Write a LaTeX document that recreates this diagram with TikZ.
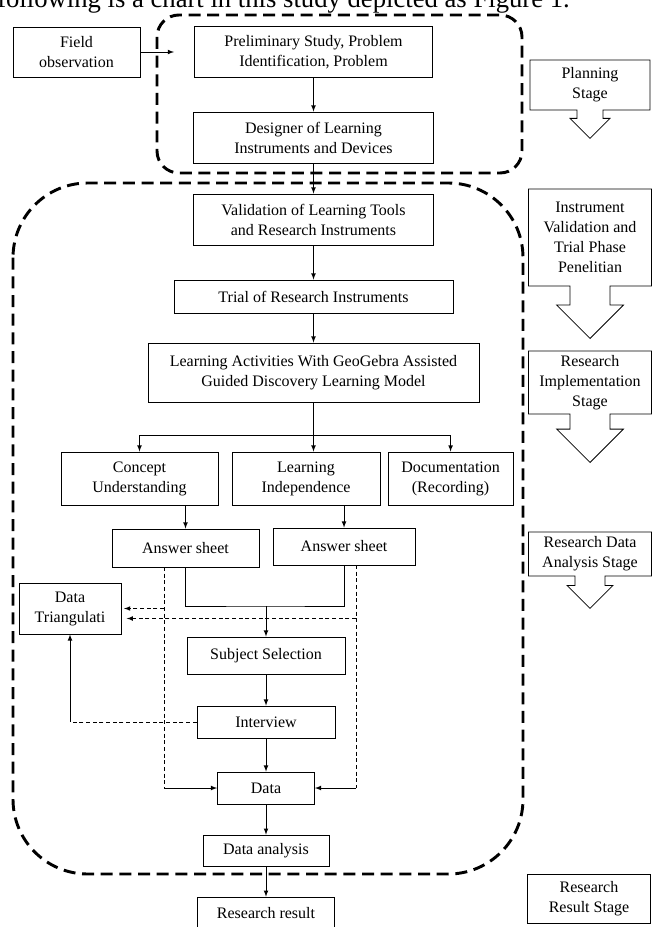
\documentclass[tikz,border=0pt]{standalone}
\usepackage{fontspec}
\setmainfont{Liberation Serif}
\usetikzlibrary{shapes.arrows}

\tikzstyle{process} = [rectangle, draw=black, semithick, align=center, text centered, inner sep=1pt, fill=white, font=\fontsize{12}{15}\selectfont]
\tikzstyle{stagebox} = [arrow box, draw=black, semithick, align=center, inner sep=1pt, fill=white, font=\fontsize{12}{15}\selectfont, minimum width=92.25pt, arrow box tip angle=90, arrow box north arrow=-1pt, arrow box east arrow=-1pt, arrow box west arrow=-1pt]
\tikzstyle{arrow} = [semithick,->,>=latex]
\tikzstyle{dashline} = [semithick, dash pattern=on 3pt off 2pt]
\tikzstyle{zone} = [line width=2.2pt, dash pattern=on 9pt off 5pt]

\begin{document}
\begin{tikzpicture}[x=0.75pt, y=-0.75pt, node distance=60pt, auto]
	\useasboundingbox (0,0) rectangle (654,927);
	\clip (0,0) rectangle (654,927);
	% Caption line
	\node [anchor=base west, inner sep=0pt, font=\fontsize{20}{22}\selectfont] (Caption) at (-3,8) {following is a chart in this study depicted as Figure 1.};
	% Stage zones
	\draw [zone, rounded corners=16.5pt] (157,15) rectangle (522,173);
	\draw [zone, rounded corners=56pt] (13,183) rectangle (523,874);
	% Place nodes
	\node [process, minimum width=178.5pt, minimum height=38.25pt] (Preliminary) at (313.5,52) {Preliminary Study, Problem\\Identification, Problem};
	\node [process, left of=Preliminary, node distance=177.75pt, minimum width=95.25pt, minimum height=37.5pt] (FieldObservation) {Field\\observation};
	\node [process, below of=Preliminary, node distance=64.1pt, minimum width=180pt, minimum height=38.25pt] (Designer) {Designer of Learning\\Instruments and Devices};
	\node [process, below of=Designer, node distance=61.5pt, minimum width=180pt, minimum height=38.25pt] (Validation) {Validation of Learning Tools\\and Research Instruments};
	\node [process, below of=Validation, node distance=57.75pt, minimum width=209.25pt, minimum height=24.75pt] (Trial) {Trial of Research Instruments};
	\node [process, below of=Trial, node distance=57pt, minimum width=248.25pt, minimum height=44.25pt] (LearningActivities) {Learning Activities With GeoGebra Assisted\\Guided Discovery Learning Model};
	\node [process, below of=LearningActivities, node distance=79.5pt, xshift=-5.6pt, minimum width=111pt, minimum height=39.75pt] (Independence) {Learning\\Independence};
	\node [process, left of=Independence, node distance=124.9pt, minimum width=117.75pt, minimum height=39.75pt] (Concept) {Concept\\Understanding};
	\node [process, right of=Independence, node distance=108.4pt, minimum width=93.75pt, minimum height=39.75pt] (Documentation) {Documentation\\(Recording)};
	\node [process, below of=Concept, node distance=52.1pt, xshift=34.5pt, minimum width=110.25pt, minimum height=28.5pt] (AnswerConcept) {Answer sheet};
	\node [process, below of=Independence, node distance=51pt, xshift=28.5pt, minimum width=106.5pt, minimum height=27.75pt] (AnswerIndependence) {Answer sheet};
	\coordinate (Merge) at (266,606);
	\node [process, below of=Merge, node distance=37.1pt, minimum width=118.5pt, minimum height=27.75pt] (SubjectSelection) {Subject Selection};
	\node [process, below of=SubjectSelection, node distance=49.9pt, minimum width=103.5pt, minimum height=24pt] (Interview) {Interview};
	\node [process, below of=Interview, node distance=49.5pt, minimum width=72.75pt, minimum height=24pt] (Data) {Data};
	\node [process, below of=Data, node distance=46.9pt, minimum width=94.5pt, minimum height=23.25pt] (DataAnalysis) {Data analysis};
	\node [process, below of=DataAnalysis, node distance=46.9pt, minimum width=102.75pt, minimum height=24pt] (ResearchResult) {Research result};
	\node [process, minimum width=76.5pt, minimum height=38.25pt] (Triangulation) at (70,608.5) {Data\\Triangulati};
	% Stage column
	\node [stagebox, minimum width=90pt, minimum height=37.5pt, arrow box south arrow=21pt, arrow box shaft width=19.5pt, arrow box head extend=5.25pt] (PlanningStage) at (590,85) {Planning\\Stage};
	\node [stagebox, below of=PlanningStage, node distance=114.4pt, minimum height=72.75pt, arrow box south arrow=39pt, arrow box shaft width=30pt, arrow box head extend=10pt] (ValidationStage) {Instrument\\Validation and\\Trial Phase\\Penelitian};
	\node [stagebox, below of=ValidationStage, node distance=108.75pt, minimum height=47.25pt, arrow box south arrow=36pt, arrow box shaft width=30pt, arrow box head extend=10pt] (ImplementationStage) {Research\\Implementation\\Stage};
	\node [stagebox, below of=ImplementationStage, node distance=128.6pt, minimum height=33pt, arrow box south arrow=24pt, arrow box shaft width=22.5pt, arrow box head extend=6pt] (AnalysisStage) {Research Data\\Analysis Stage};
	\node [process, below of=AnalysisStage, node distance=258.4pt, xshift=-0.75pt, minimum width=92.25pt, minimum height=36.75pt] (ResultStage) {Research\\Result Stage};
	% Draw edges
	\coordinate (FieldTip) at (174,52);
	\draw [arrow] (FieldObservation) -- (FieldTip);
	\draw [arrow] (Preliminary) -- (Designer);
	\draw [arrow] (Designer) -- (Validation);
	\draw [arrow] (Validation) -- (Trial);
	\draw [arrow] (Trial) -- (LearningActivities);
	\coordinate (Split) at (313.5,435);
	\draw [semithick] (LearningActivities) -- (Split);
	\draw [arrow] (Split) -| (Concept);
	\draw [arrow] (Split) -| (Documentation);
	\draw [arrow] (Split) -- (Split |- Independence.north);
	\draw [arrow] (Concept.south -| AnswerConcept) -- (AnswerConcept);
	\draw [arrow] (Independence.south -| AnswerIndependence) -- (AnswerIndependence);
	\draw [semithick] (AnswerConcept) |- (Merge) -| (AnswerIndependence);
	\draw [arrow] (Merge) -- (SubjectSelection);
	\draw [arrow] (SubjectSelection) -- (Interview);
	\draw [arrow] (Interview) -- (Data);
	\draw [arrow] (Data) -- (DataAnalysis);
	\draw [arrow] (DataAnalysis) -- (ResearchResult);
	% Dashed links
	\coordinate (LeftTap) at (164,567);
	\coordinate (RightTap) at (356,565);
	\draw [dashline] (LeftTap) -- (LeftTap |- Data.west) coordinate (LeftCorner);
	\draw [arrow] (LeftCorner) -- (Data.west);
	\draw [dashline] (RightTap) -- (RightTap |- Data.east) coordinate (RightCorner);
	\draw [arrow] (RightCorner) -- (Data.east);
	\draw [dashline, arrow, shorten >=2pt] (LeftTap |- Triangulation.east) -- (Triangulation.east);
	\coordinate (TriangulationIn) at ([yshift=-7.5pt]Triangulation.east);
	\draw [dashline, arrow, shorten >=4pt] (RightTap |- TriangulationIn) -- (TriangulationIn);
	\draw [dashline] (Interview.west) -- (Triangulation.south |- Interview.west) coordinate (InterviewBend);
	\draw [arrow] (InterviewBend) -- (Triangulation.south);
\end{tikzpicture}
\end{document}
